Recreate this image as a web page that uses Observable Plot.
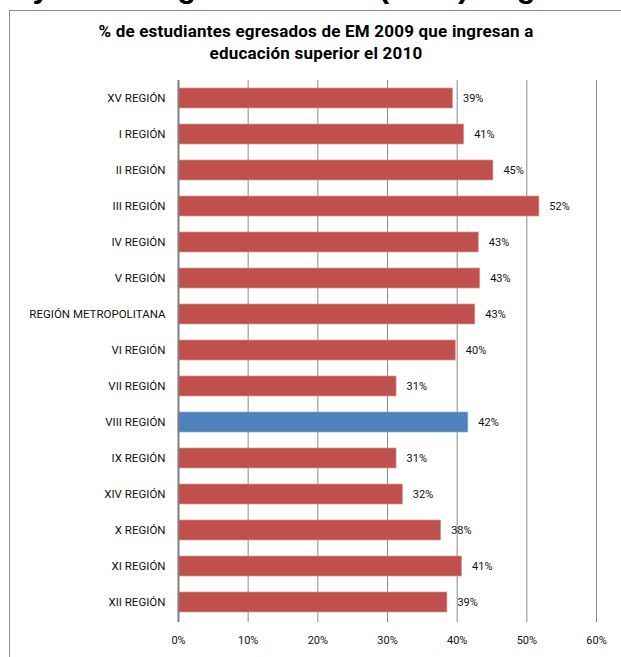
<!DOCTYPE html>
<html>
<head>
<meta charset="utf-8">
<script src="https://cdn.jsdelivr.net/npm/d3@7"></script>
<script src="https://cdn.jsdelivr.net/npm/@observablehq/plot@0.6"></script>
<style>
  html, body { margin: 0; padding: 0; background: #fff; }
  #wrap { position: relative; width: 621px; height: 657px; overflow: hidden; font-family: "Liberation Sans", Arial, sans-serif; }
  #big { position: absolute; left: -14px; top: -31px; font-size: 31px; font-weight: bold; white-space: nowrap; color: #000; font-family: "Liberation Sans", Arial, sans-serif; }
  #frame { position: absolute; left: 9px; top: 10px; width: 640px; height: 700px; border: 1px solid #8c8c8c; box-sizing: border-box; background: #fff; }
  #title { position: absolute; left: 9px; width: 614px; top: 20px; text-align: center; font-size: 17px; font-weight: bold; line-height: 22px; color: #000; font-family: "Roboto", "Liberation Sans", sans-serif; letter-spacing: 0.2px; }
  #chart { position: absolute; left: 0; top: 70px; }
</style>
</head>
<body>
<div id="wrap">
  <div id="big">Trayectoria egresados EM (2009) Regionales</div>
  <div id="frame"></div>
  <div id="title">% de estudiantes egresados de EM 2009 que ingresan a<br>educación superior el 2010</div>
  <div id="chart"></div>
</div>
<script>
const regions = ["XV REGIÓN","I REGIÓN","II REGIÓN","III REGIÓN","IV REGIÓN","V REGIÓN","REGIÓN METROPOLITANA","VI REGIÓN","VII REGIÓN","VIII REGIÓN","IX REGIÓN","XIV REGIÓN","X REGIÓN","XI REGIÓN","XII REGIÓN"];
const values = [39.4, 41.0, 45.2, 51.8, 43.1, 43.3, 42.6, 39.8, 31.3, 41.6, 31.3, 32.2, 37.7, 40.7, 38.6];
const highlight = ["VIII REGIÓN"];
const xTicks = [0, 10, 20, 30, 40, 50, 60];

const data = regions.map((r, i) => ({region: r, value: values[i], hl: highlight.includes(r)}));

const chart = Plot.plot({
  width: 621,
  height: 587,
  marginLeft: 178,
  marginRight: 25,
  marginTop: 10,
  marginBottom: 37,
  style: {fontFamily: "Roboto, 'Liberation Sans', sans-serif", fontSize: "11px", color: "#111", background: "transparent"},
  x: {domain: [0, 60], ticks: xTicks, tickFormat: d => d + "%", label: null, tickSize: 0, tickPadding: 16},
  y: {domain: regions, label: null, paddingInner: 0.44, paddingOuter: 0.22, tickSize: 0, tickPadding: 13},
  marks: [
    Plot.ruleX(xTicks.filter(d => d > 0), {stroke: "#8a8a8a", strokeWidth: 1, insetBottom: -2}),
    Plot.barX(data, {x: "value", y: "region", fill: d => d.hl ? "#4F81BD" : "#C0504D", stroke: d => d.hl ? "#8eaadb" : "#d99694", strokeWidth: 0.7}),
    Plot.ruleX([0], {stroke: "#808080", strokeWidth: 2, insetBottom: -2}),
    Plot.text(data, {x: "value", y: "region", text: d => Math.round(d.value) + "%", textAnchor: "start", dx: 10, fill: "#111", fontSize: 11}),
    Plot.axisX({ticks: xTicks, tickFormat: d => d + "%", tickSize: 0, tickPadding: 16, label: null, fontSize: 11}),
    Plot.axisY({tickSize: 0, tickPadding: 13, label: null, fontSize: 11.5, letterSpacing: "-0.25px"})
  ]
});
document.getElementById("chart").appendChild(chart);
</script>
</body>
</html>
